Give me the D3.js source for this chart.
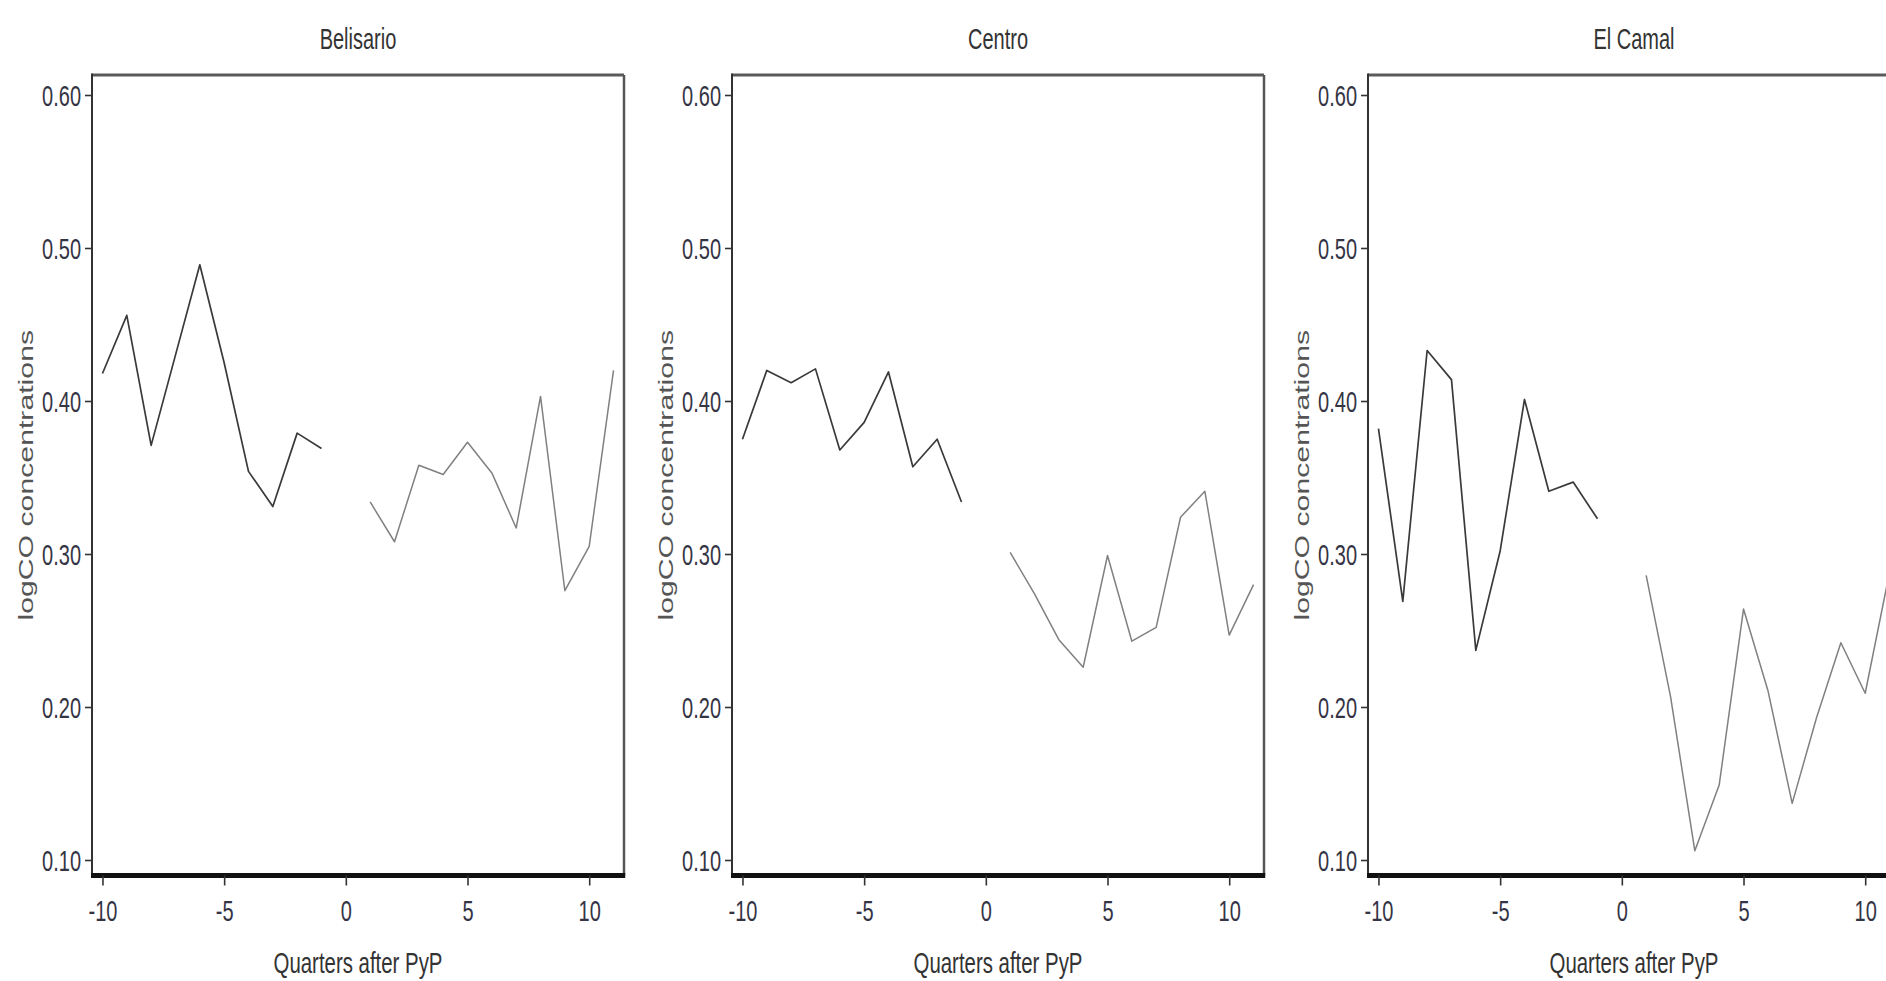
<!DOCTYPE html>
<html>
<head>
<meta charset="utf-8">
<script src="https://cdn.jsdelivr.net/npm/d3@7"></script>
<style>
  html, body { margin: 0; padding: 0; background: #fff; }
  svg { display: block; }
  text { font-family: "Liberation Sans", Arial, sans-serif; }
</style>
</head>
<body>
<svg id="chart" width="1886" height="981"></svg>
<script>
// ---------- data ----------
const panelTitles = ["Belisario", "Centro", "El Camal"];
const quartersPre  = [-10, -9, -8, -7, -6, -5, -4, -3, -2, -1];
const quartersPost = [1, 2, 3, 4, 5, 6, 7, 8, 9, 10, 11];

const belisarioPre  = [0.418, 0.456, 0.371, 0.430, 0.489, 0.425, 0.354, 0.331, 0.379, 0.369];
const belisarioPost = [0.334, 0.308, 0.358, 0.352, 0.373, 0.353, 0.317, 0.403, 0.276, 0.305, 0.420];

const centroPre  = [0.375, 0.420, 0.412, 0.421, 0.368, 0.386, 0.419, 0.357, 0.375, 0.334];
const centroPost = [0.301, 0.274, 0.244, 0.226, 0.299, 0.243, 0.252, 0.324, 0.341, 0.247, 0.280];

const camalPre  = [0.382, 0.269, 0.433, 0.414, 0.237, 0.302, 0.401, 0.341, 0.347, 0.323];
const camalPost = [0.286, 0.207, 0.106, 0.149, 0.264, 0.211, 0.137, 0.193, 0.242, 0.209, 0.288];

const xTickValues = [-10, -5, 0, 5, 10];
const yTickValues = [0.10, 0.20, 0.30, 0.40, 0.50, 0.60];
const xTitle = "Quarters after PyP";
const yTitle = "logCO concentrations";

const panels = [
  { title: panelTitles[0], pre: belisarioPre, post: belisarioPost },
  { title: panelTitles[1], pre: centroPre,    post: centroPost },
  { title: panelTitles[2], pre: camalPre,     post: camalPost }
];

// ---------- layout ----------
const svg = d3.select("#chart");
const lefts = [92, 732, 1368];
const plotW = 532;
const frameTop = 75, frameBottom = 875.5;
const K = 1.48; // vertical stretch of the text
const fs = 20;

const y = d3.scaleLinear().domain([0.10, 0.60]).range([860, 95]);

panels.forEach((p, i) => {
  const L = lefts[i], R = L + plotW;
  const x = d3.scaleLinear().domain([-10.43, 11.43]).range([L, R]);
  const g = svg.append("g");

  // lines
  const line = d3.line().x(d => x(d[0])).y(d => y(d[1]));
  g.append("path")
    .datum(quartersPre.map((q, j) => [q, p.pre[j]]))
    .attr("d", line).attr("fill", "none")
    .attr("stroke", "#3a3a3a").attr("stroke-width", 1.7)
    .attr("stroke-linejoin", "round");
  g.append("path")
    .datum(quartersPost.map((q, j) => [q, p.post[j]]))
    .attr("d", line).attr("fill", "none")
    .attr("stroke", "#808080").attr("stroke-width", 1.5)
    .attr("stroke-linejoin", "round");

  // frame
  g.append("line").attr("x1", L).attr("x2", R).attr("y1", frameTop).attr("y2", frameTop)
    .attr("stroke", "#5a5a5a").attr("stroke-width", 3);
  g.append("line").attr("x1", R).attr("x2", R).attr("y1", frameTop).attr("y2", frameBottom)
    .attr("stroke", "#555").attr("stroke-width", 2.5);
  g.append("line").attr("x1", L).attr("x2", L).attr("y1", frameTop - 1.5).attr("y2", frameBottom)
    .attr("stroke", "#333").attr("stroke-width", 2);
  g.append("line").attr("x1", L - 1).attr("x2", R + 1.2).attr("y1", frameBottom).attr("y2", frameBottom)
    .attr("stroke", "#111").attr("stroke-width", 5);

  // y axis
  const ya = g.append("g").attr("transform", `translate(${L - 1},0)`)
    .call(d3.axisLeft(y).tickValues(yTickValues).tickSize(6).tickFormat(d3.format(".2f")));
  ya.select(".domain").remove();
  ya.selectAll(".tick line").attr("stroke", "#333").attr("stroke-width", 1.6);
  ya.selectAll(".tick text")
    .attr("x", -10).attr("dy", null).attr("y", 0.358 * fs)
    .attr("transform", `scale(1,${K})`)
    .attr("font-size", fs).attr("fill", "#343444")
    .attr("font-family", "Liberation Sans, Arial, sans-serif");

  // x axis
  const xa = g.append("g").attr("transform", `translate(0,${frameBottom})`)
    .call(d3.axisBottom(x).tickValues(xTickValues).tickSize(10).tickFormat(d => d < 0 ? "-" + Math.abs(d) : String(d)));
  xa.select(".domain").remove();
  xa.selectAll(".tick line").attr("stroke", "#333").attr("stroke-width", 1.6);
  xa.selectAll(".tick text")
    .attr("y", (921.5 - frameBottom) / K).attr("dy", null)
    .attr("transform", `scale(1,${K})`)
    .attr("font-size", fs).attr("fill", "#343444")
    .attr("font-family", "Liberation Sans, Arial, sans-serif");

  // panel title
  g.append("text")
    .attr("transform", `translate(${(L + R) / 2},49) scale(1,${K})`)
    .attr("text-anchor", "middle").attr("font-size", fs).attr("fill", "#333")
    .text(p.title);

  // x title
  g.append("text")
    .attr("transform", `translate(${(L + R) / 2},973) scale(1,${K * 0.98})`)
    .attr("text-anchor", "middle").attr("font-size", 20.4).attr("fill", "#333")
    .text(xTitle);

  // y title
  g.append("text")
    .attr("transform", `translate(${L - 59},${(frameTop + frameBottom) / 2}) scale(1,1.44) rotate(-90)`)
    .attr("text-anchor", "middle").attr("font-size", 21).attr("fill", "#555")
    .text(yTitle);
});
</script>
</body>
</html>
